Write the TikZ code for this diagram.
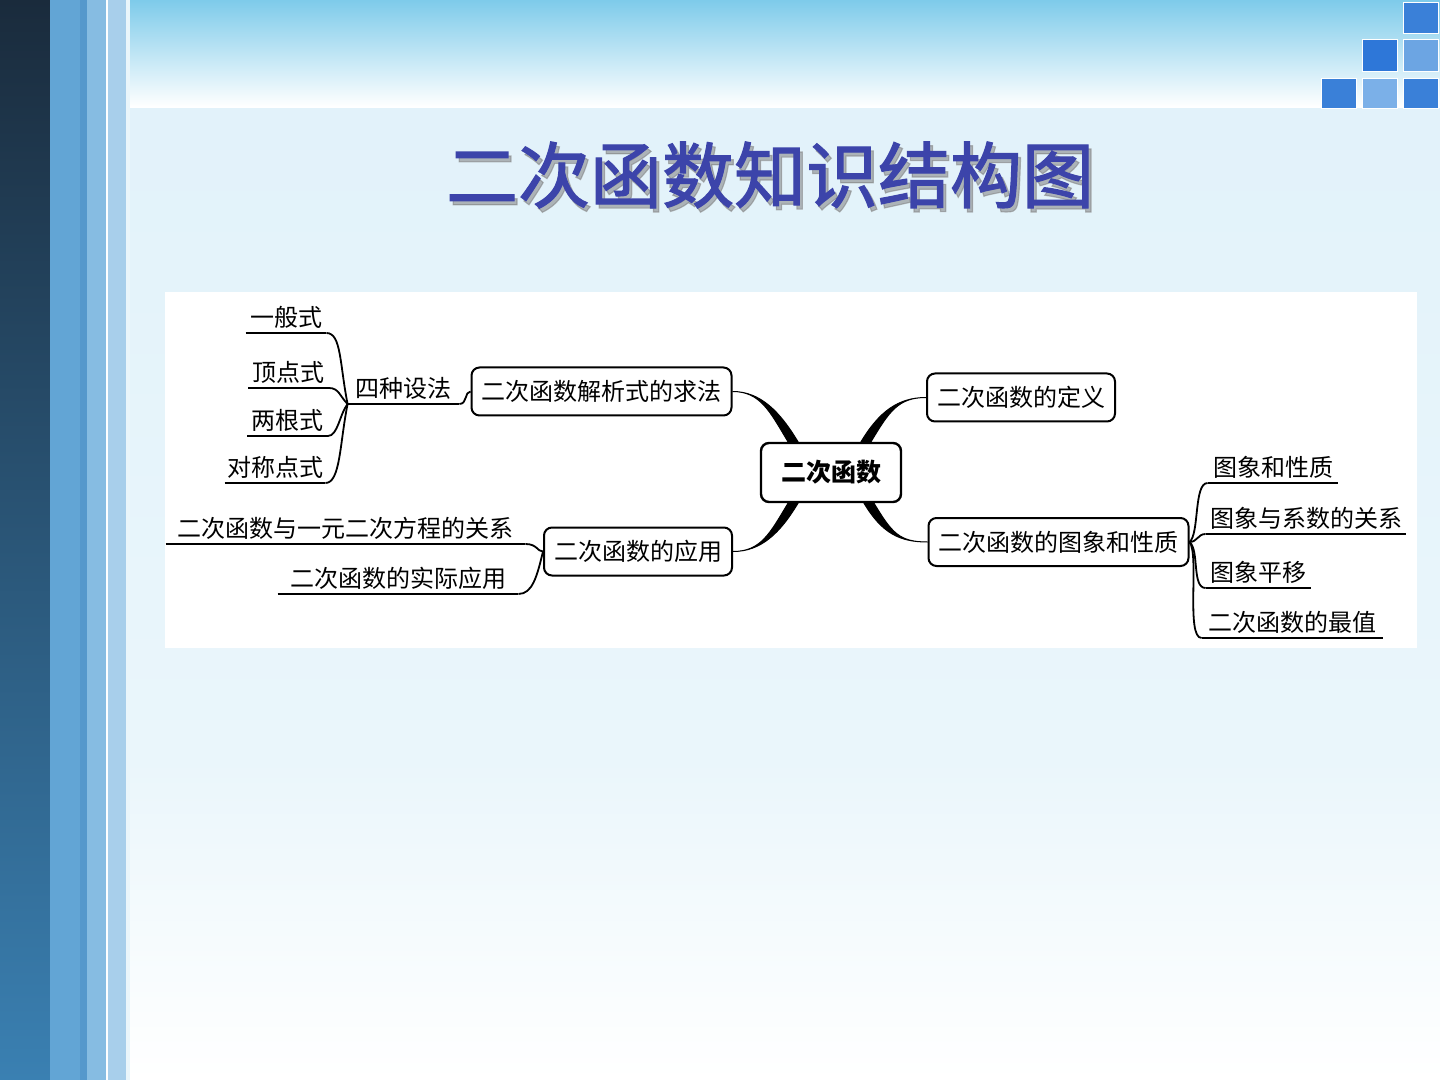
\documentclass[tikz,border=0pt]{standalone}
\usepackage{fontspec}
\newfontfamily\cjk{Noto Sans CJK SC}
\newfontfamily\cjktitle{Noto Sans CJK SC}[FakeBold=1.6]
\usetikzlibrary{calc, positioning}

\definecolor{navytop}{HTML}{1A2B3C}
\definecolor{navybot}{HTML}{3A80B2}
\definecolor{bandA}{HTML}{62A5D5}
\definecolor{bandB}{HTML}{5598CC}
\definecolor{bandC}{HTML}{86BCE2}
\definecolor{bandD}{HTML}{A8CFEB}
\definecolor{skytop}{HTML}{7ECBEA}
\definecolor{pale}{HTML}{E2F2FA}
\definecolor{paler}{HTML}{EAF6FB}
\definecolor{tileA}{HTML}{3A80D8}
\definecolor{tileB}{HTML}{2E77D8}
\definecolor{tileC}{HTML}{6CA5E3}
\definecolor{tileD}{HTML}{7BB0E8}
\definecolor{titleblue}{HTML}{3C44AA}

\tikzset{
  branchbox/.style={draw, line width=1pt, rounded corners=4pt, fill=white,
    font=\cjk\fontsize{12pt}{14pt}\selectfont, minimum height=24pt,
    inner xsep=5pt, inner ysep=0pt},
  hubbox/.style={branchbox, line width=1.2pt, font=\cjk\bfseries\fontsize{12.5pt}{14pt}\selectfont,
    minimum width=70pt, minimum height=29.5pt},
  leaf/.style={font=\cjk\fontsize{12pt}{14pt}\selectfont, inner xsep=0pt,
    inner ysep=2pt, anchor=south},
  twig/.style={line width=0.9pt},
  heading/.style={font=\cjktitle\fontsize{36pt}{40pt}\selectfont},
}

% tapered connector from the hub
\newcommand{\bough}[4]{%
  \filldraw[line width=0.5pt] ($(#1)+(-5,0)$) .. controls +(#3) and +(#4) .. (#2)
    .. controls +(#4) and +(#3) .. ($(#1)+(5,0)$) -- cycle;}

\begin{document}
\begin{tikzpicture}[x=0.5pt,y=-0.5pt]
  \useasboundingbox (0,0) rectangle (1440,1080);

  % background
  \shade[top color=navytop, bottom color=navybot] (0,0) rectangle (50,1080);
  \fill[bandA] (50,0) rectangle (80,1080);
  \fill[bandB] (80,0) rectangle (87,1080);
  \fill[bandC] (87,0) rectangle (106,1080);
  \fill[white] (106,0) rectangle (108,1080);
  \fill[bandD] (108,0) rectangle (126,1080);
  \fill[paler] (126,0) rectangle (130,1080);
  \shade[top color=skytop, bottom color=white] (130,0) rectangle (1440,107);
  \shade[top color=pale, bottom color=paler] (130,109) rectangle (1440,760);
  \shade[top color=paler, bottom color=white] (130,760) rectangle (1440,1080);

  % corner tiles
  \filldraw[draw=white, fill=tileA] (1403,2) rectangle (1438,33);
  \filldraw[draw=white, fill=tileB] (1362,39) rectangle (1397,71);
  \filldraw[draw=white, fill=tileC] (1403,39) rectangle (1438,71);
  \filldraw[draw=white, fill=tileA] (1321,78) rectangle (1356,108);
  \filldraw[draw=white, fill=tileD] (1362,78) rectangle (1397,108);
  \filldraw[draw=white, fill=tileA] (1403,78) rectangle (1438,108);

  % title
  \node[heading, text=black!50, opacity=0.55] (titleshadow) at (773,179) {二次函数知识结构图};
  \node[heading, text=titleblue] (title) at (770,175) {二次函数知识结构图};

  % panel
  \fill[white] (165,292) rectangle (1417,648);

  % main boxes
  \node[hubbox] (hub) at (831,472.5) {二次函数};
  \node[branchbox] (jiexi) at (601.5,391.5) {二次函数解析式的求法};
  \node[branchbox] (yingyong) at (638,551.5) {二次函数的应用};
  \node[branchbox] (dingyi) at (1021,397.5) {二次函数的定义};
  \node[branchbox] (xingzhi) at (1058.5,542) {二次函数的图象和性质};

  \coordinate (hubnw) at ($(hub.north)+(-38,0)$);
  \coordinate (hubne) at ($(hub.north)+(35,0)$);
  \coordinate (hubsw) at ($(hub.south)+(-38,0)$);
  \coordinate (hubse) at ($(hub.south)+(38,0)$);

  \bough{hubnw}{jiexi.east}{-18,-30}{28,0}
  \bough{hubne}{dingyi.west}{18,-30}{-28,0}
  \bough{hubsw}{yingyong.east}{-18,30}{28,0}
  \bough{hubse}{xingzhi.west}{18,30}{-28,0}

  % left leaves
  \node[leaf, minimum width=40pt] (yiban) at (286,333) {一般式};
  \node[leaf, minimum width=40pt] (dingdian) at (288.5,388) {顶点式};
  \node[leaf, minimum width=40pt] (lianggen) at (287.5,436) {两根式};
  \node[leaf, minimum width=50pt] (duicheng) at (275,483) {对称点式};
  \node[leaf, minimum width=55.5pt] (sheshi) at (403.5,404) {四种设法};

  \node[leaf, minimum width=179.5pt] (guanxi) at (345.5,544) {二次函数与一元二次方程的关系};
  \node[leaf, minimum width=120pt] (shiji) at (398,594) {二次函数的实际应用};

  % right leaves
  \node[leaf, minimum width=65pt] (tuxiang) at (1273,483) {图象和性质};
  \node[leaf, minimum width=100pt] (xishu) at (1306,534) {图象与系数的关系};
  \node[leaf, minimum width=52.5pt] (pingyi) at (1258.5,588) {图象平移};
  \node[leaf, minimum width=90.5pt] (zuizhi) at (1292.5,638) {二次函数的最值};

  % underlines
  \foreach \n in {yiban,dingdian,lianggen,duicheng,sheshi,guanxi,shiji,tuxiang,xishu,pingyi,zuizhi}{
    \draw[twig] (\n.south west) -- (\n.south east);
  }

  % twigs
  \draw[twig] (yiban.south east) .. controls +(15,0) and +(-8,-40) .. (sheshi.south west);
  \draw[twig] (dingdian.south east) .. controls +(10,0) and +(-8,-8) .. (sheshi.south west);
  \draw[twig] (lianggen.south east) .. controls +(10,0) and +(-8,10) .. (sheshi.south west);
  \draw[twig] (duicheng.south east) .. controls +(15,0) and +(-8,40) .. (sheshi.south west);
  \draw[twig] (sheshi.south east) .. controls +(8,0) and +(-6,0) .. (jiexi.west);

  \draw[twig] (guanxi.south east) .. controls +(12,0) and +(-6,0) .. (yingyong.west);
  \draw[twig] (shiji.south east) .. controls +(14,0) and +(-6,25) .. (yingyong.west);

  \draw[twig] (xingzhi.east) .. controls +(10,-8) and +(-14,0) .. (tuxiang.south west);
  \draw[twig] (xingzhi.east) .. controls +(8,0) and +(-8,0) .. (xishu.south west);
  \draw[twig] (xingzhi.east) .. controls +(10,8) and +(-14,0) .. (pingyi.south west);
  \draw[twig] (xingzhi.east) .. controls +(10,12) and +(-16,0) .. (zuizhi.south west);
\end{tikzpicture}
\end{document}
